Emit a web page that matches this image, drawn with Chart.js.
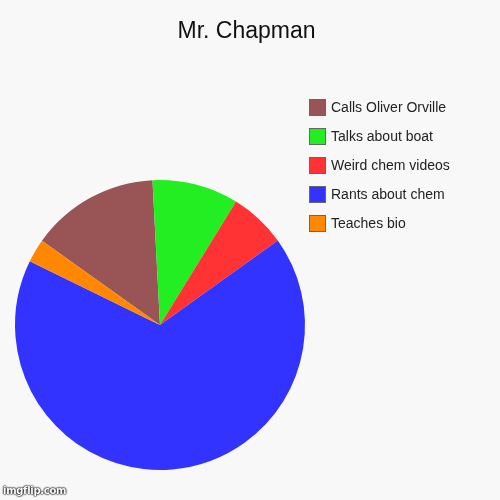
<!DOCTYPE html>
<html>
<head>
<meta charset="utf-8">
<script src="https://cdn.jsdelivr.net/npm/chart.js@4/dist/chart.umd.min.js"></script>
<style>
  html, body { margin: 0; padding: 0; background: #f8f8f8; }
  #wrap { position: relative; width: 500px; height: 500px; background: #f8f8f8; overflow: hidden; }
  #pieChart { position: absolute; left: 0; top: 0; }
  #title {
    position: absolute; left: 0; width: 493px; top: 17px; text-align: center;
    font-family: "Liberation Sans", Arial, sans-serif; font-size: 23px; color: #111;
  }
  #legend { position: absolute; left: 309px; top: 99px; font-family: "Liberation Sans", Arial, sans-serif; font-size: 14px; color: #222; }
  .row { height: 29px; display: flex; align-items: flex-start; }
  .box { width: 15px; height: 15px; border: 1px solid #666; margin-right: 5px; }
  .lbl { line-height: 17px; }
  #mark {
    position: absolute; left: 3px; top: 485px; font-family: "DejaVu Sans", sans-serif;
    font-size: 10px; font-weight: bold; color: #fff; letter-spacing: -0.3px;
    text-shadow: 0 0 2px #000, 0 0 2px #000, 0 0 1px #000;
  }
</style>
</head>
<body>
<div id="wrap">
  <canvas id="pieChart" width="500" height="500"></canvas>
  <div id="title"></div>
  <div id="legend"></div>
  <div id="mark">imgflip.com</div>
</div>
<script>
// chart data (percent of pie)
const chartTitle = 'Mr. Chapman';
const categories = ['Calls Oliver Orville', 'Talks about boat', 'Weird chem videos', 'Rants about chem', 'Teaches bio'];
const values = [14.3, 9.6, 6.3, 67.1, 2.6];
const sliceColors = ['#995555', '#22ee22', '#ff3333', '#3333ff', '#ff8800'];

document.getElementById('title').textContent = chartTitle;

// legend, same order as the data
const legendEl = document.getElementById('legend');
categories.forEach((name, i) => {
    const row = document.createElement('div');
    row.className = 'row';
    const box = document.createElement('div');
    box.className = 'box';
    box.style.background = sliceColors[i];
    const lbl = document.createElement('div');
    lbl.className = 'lbl';
    lbl.textContent = name;
    row.appendChild(box);
    row.appendChild(lbl);
    legendEl.appendChild(row);
});

const ctx = document.getElementById('pieChart').getContext('2d');
new Chart(ctx, {
    type: 'pie',
    data: {
        labels: categories,
        datasets: [{
            data: values,
            backgroundColor: sliceColors,
            borderWidth: 0
        }]
    },
    options: {
        responsive: false,
        animation: false,
        rotation: -54.5, // first slice starts left of 12 o'clock
        layout: { padding: { left: 15, right: 195, top: 180, bottom: 30 } },
        plugins: {
            legend: { display: false },
            tooltip: { enabled: false }
        }
    }
});
</script>
</body>
</html>
